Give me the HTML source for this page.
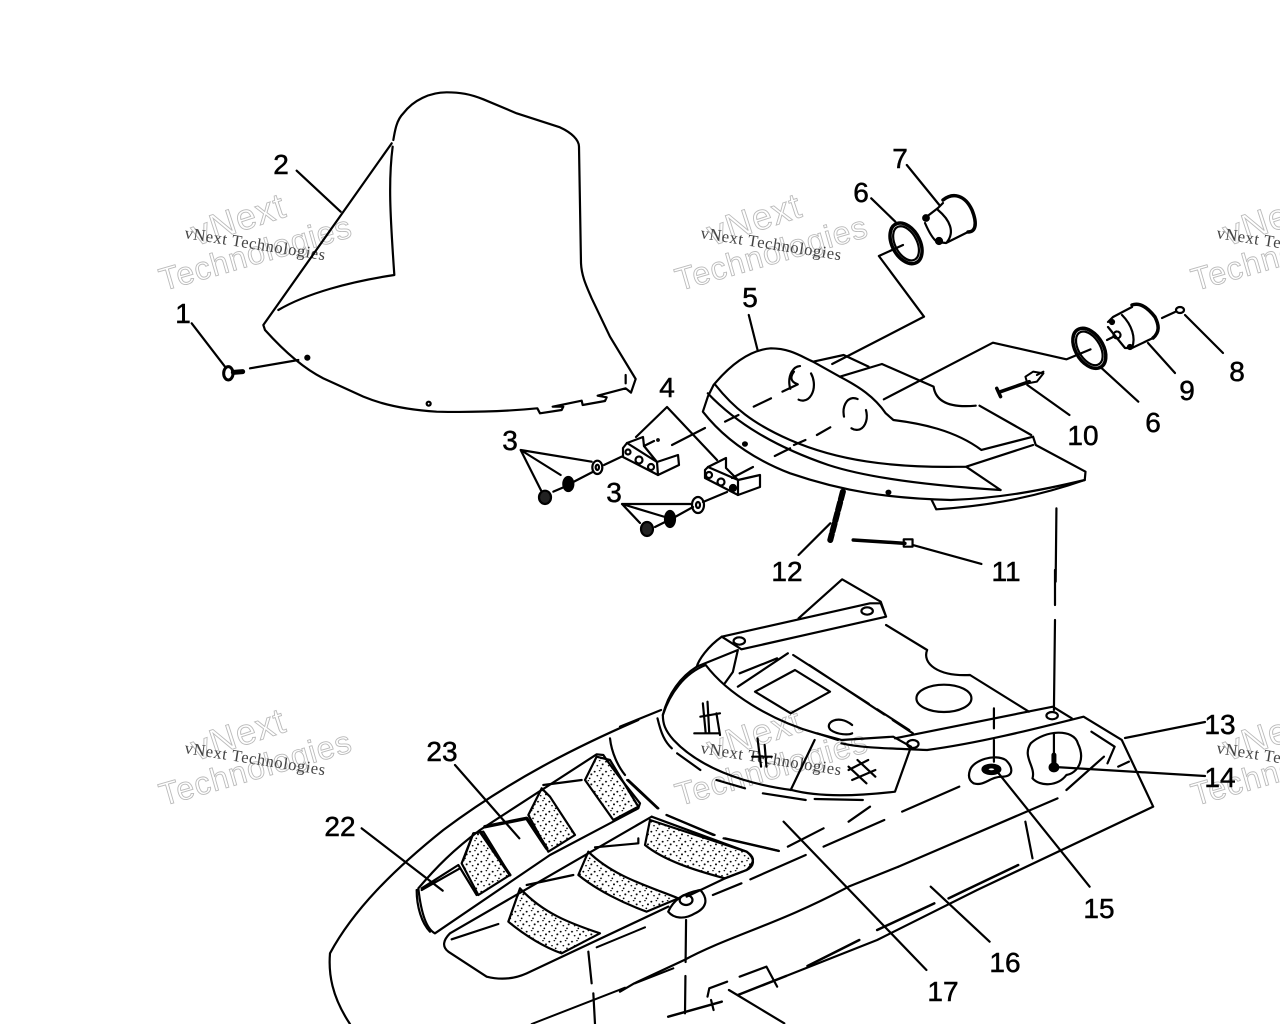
<!DOCTYPE html>
<html><head><meta charset="utf-8"><style>
html,body{margin:0;padding:0;background:#fff}
svg{display:block}
svg path,svg ellipse,svg circle{vector-effect:non-scaling-stroke}
.l{fill:none;stroke:#000;stroke-width:2.2;stroke-linejoin:round;stroke-linecap:round}
.t{font:28px "Liberation Sans",sans-serif;fill:#000;stroke:#000;stroke-width:.5;text-anchor:middle}
.w1{font:16.5px "Liberation Serif",serif;fill:#444;letter-spacing:.6px}
.w2{font:36px "Liberation Sans",sans-serif;fill:none;stroke:#bbb;stroke-width:.9;letter-spacing:1px}
.w3{font:32px "Liberation Sans",sans-serif;fill:none;stroke:#bbb;stroke-width:.9;letter-spacing:1px}
</style></head><body>
<svg width="1280" height="1024" viewBox="0 0 1280 1024" xmlns="http://www.w3.org/2000/svg">
<defs>
<pattern id="st" width="34" height="30" patternUnits="userSpaceOnUse">
<circle cx="4" cy="5" r="2.8"/><circle cx="19" cy="2" r="2.2"/><circle cx="28" cy="13" r="3"/><circle cx="12" cy="17" r="2.4"/><circle cx="23" cy="25" r="2.6"/>
</pattern>
<g id="wm">
<text class="w2" transform="translate(196,246) rotate(-18)">vNext</text>
<text class="w3" transform="translate(163,291) rotate(-16)">Technologies</text>
<text class="w1" transform="translate(184,238) rotate(9)">vNext Technologies</text>
</g>
</defs>
<rect width="1280" height="1024" fill="#fff"/>
<use href="#wm"/><use href="#wm" x="516"/><use href="#wm" x="1032"/>
<use href="#wm" y="515"/><use href="#wm" x="516" y="515"/><use href="#wm" x="1032" y="515"/>

<!-- zoom 1 -->
<g class="l" transform="translate(150,80) scale(.33333)">
<path d="M730 180C735 150 740 120 760 100C790 60 840 37 890 37C930 37 960 42 1000 58L1100 100L1230 142C1265 158 1287 180 1287 200L1293 550C1295 590 1310 620 1325 655L1380 770L1457 897L1443 938L1427 925L1343 947L1370 952L1365 963L1298 975L1295 962L1208 980L1240 980L1235 990L1170 1000L1162 985C1060 995 950 997 860 995C780 990 700 975 640 950L520 895C450 860 390 800 345 750L340 735L725 190"/>
<path d="M728 200C715 300 720 400 733 585C600 605 470 640 385 690"/>
<path d="M1427 885L1427 910M440 272L572 395M125 730L225 860M300 865L445 840"/>
<circle cx="472" cy="833" r="6" fill="#000"/><circle cx="836" cy="971" r="6"/>
<ellipse cx="235" cy="880" rx="14" ry="20" stroke-width="3"/><path d="M250 877L278 875" stroke-width="5"/>
<path d="M1112 1110L1325 1145M1112 1110L1232 1185M1112 1110L1175 1235M1210 1235L1240 1222M1272 1205L1330 1175M1362 1155L1415 1130"/>
<ellipse cx="1342" cy="1162" rx="15" ry="20"/><ellipse cx="1342" cy="1162" rx="5" ry="8"/>
<ellipse cx="1255" cy="1212" rx="15" ry="21" fill="#000"/>
<ellipse cx="1185" cy="1252" rx="18" ry="20" fill="#222"/>
</g>
<g class="l">
<!-- second fastener set -->
<path d="M622 504L692 504M622 504L665 517M622 504L640 523M655 527L665 522M675 517L693 507M703 502L727 492"/>
<ellipse cx="698" cy="505" rx="6" ry="8"/><ellipse cx="698" cy="505" rx="2" ry="3"/>
<ellipse cx="670" cy="519" rx="5" ry="8" fill="#000"/>
<ellipse cx="647" cy="529" rx="6" ry="7" fill="#222"/>
<!-- bracket 1 -->
<path d="M623 448L627 443L643 437L644 446L657 462L678 455L679 465L658 475L623 457Z"/>
<path d="M627 443L657 462L658 475M644 446L654 441"/>
<circle cx="628" cy="452" r="2.5"/><circle cx="639" cy="460" r="3.5"/><circle cx="651" cy="467" r="3"/>
<circle cx="658" cy="440" r=".8"/>
<path d="M672 445L705 428"/>
<!-- bracket 2 -->
<path d="M705 470L708 467L726 458L726 468L738 480L760 475L760 487L738 495L705 478Z"/>
<path d="M708 467L738 480L738 495M732 478L753 467"/>
<circle cx="709" cy="475" r="3"/><circle cx="721" cy="482" r="3.5"/><circle cx="733" cy="488" r="3" fill="#000"/>
<path d="M667 407L636 437M667 407L717 460"/>
<path d="M1125 738L1205 722M1055 767L1205 776"/>
<!-- gauge 7 -->
<path d="M925 218L938 208L943 203M925 223C928 230 932 238 937 242L946 243L968 232M938 210C950 220 955 232 947 242"/>
<path d="M943 200C953 192 965 195 972 210C978 225 975 232 968 232" stroke-width="3.5"/>
<circle cx="926" cy="218" r="2.8" fill="#000"/><circle cx="939" cy="241" r="3" fill="#000"/>
<!-- gauge 9 -->
<path d="M1108 322L1113 317L1132 307M1108 327L1125 348L1132 348L1153 338M1122 315C1132 325 1136 338 1132 348"/>
<path d="M1132 305C1140 302 1148 308 1155 317C1159 325 1160 332 1153 338" stroke-width="3.5"/>
<circle cx="1117" cy="335" r="3.5" stroke-dasharray="2 1.5"/><circle cx="1112" cy="322" r="2" fill="#000"/><circle cx="1130" cy="347" r="2" fill="#000"/>
<path d="M1107 340L1113 337"/>
<ellipse cx="1180" cy="310" rx="4" ry="3"/>
<path d="M1162 318L1175 312M1185 315L1223 353M1148 343L1175 373"/>
</g>

<!-- zoom 2 -->
<g class="l" transform="translate(660,140) scale(.38265,.33333)">
<path d="M140 735C180 680 230 630 290 625C340 625 370 650 400 665L470 710C520 740 560 770 590 820L610 840C680 850 770 870 840 930L975 890L982 915L1112 995L1110 1020C1000 1050 890 1075 760 1080C600 1075 480 1055 340 1000C250 960 170 900 112 815L125 770Z"/>
<path d="M125 760C200 850 300 920 440 975C560 1020 750 1040 890 1050"/>
<path d="M145 735C190 800 240 850 340 900C460 960 600 985 800 980L890 1050M800 980L975 915"/>
<path d="M400 665L480 645L545 680M470 710L580 672L715 740C720 780 750 805 825 797M835 797L970 885"/>
<path d="M710 1080L722 1108C830 1100 960 1080 1110 1020"/>
<circle cx="222" cy="912" r="5" fill="#000"/><circle cx="597" cy="1057" r="5" fill="#000"/>
<ellipse cx="370" cy="730" rx="32" ry="52" stroke-dasharray="28 14" transform="rotate(-5 370 730)"/>
<ellipse cx="510" cy="822" rx="30" ry="48" stroke-dasharray="28 14" transform="rotate(-8 510 822)"/>
<path d="M450 672L690 530L572 348L635 315M585 778L870 608L1062 658L1125 628"/>
<path d="M170 845L205 825M245 800L290 775M320 755L360 733C340 725 340 710 350 695M300 948L340 925M350 915L380 900M410 885L445 862"/>
<ellipse cx="643" cy="310" rx="37" ry="64" transform="rotate(-22 643 310)" stroke-width="3.5"/>
<ellipse cx="643" cy="310" rx="29" ry="54" transform="rotate(-22 643 310)"/>
<ellipse cx="1122" cy="625" rx="37" ry="64" transform="rotate(-25 1122 625)" stroke-width="3.5"/>
<ellipse cx="1122" cy="625" rx="29" ry="54" transform="rotate(-25 1122 625)"/>
<path d="M552 175L615 245M645 75L730 195M232 525L255 630M960 735L1070 825M1150 680L1250 785"/>
<path d="M880 745L890 770M890 755L965 725" stroke-width="3.5"/>
<path d="M955 710L975 695L1002 700L985 725L960 730Z M1002 695L985 705" stroke-width="2"/>
<path d="M478 1055L445 1200" stroke-width="6" stroke-dasharray="8 3"/>
<path d="M362 1245L445 1150"/>
<path d="M505 1200L640 1210" stroke-width="3.5"/>
<path d="M637 1198L660 1198L660 1220L637 1220Z M660 1215L840 1272"/>
<path d="M1036 1105L1034 1325"/>
</g>

<!-- zoom 3 -->
<g class="l" transform="translate(620,570) scale(.35714,.33333)">
<path d="M500 145L622 28L730 95L745 140M285 200L700 100L730 100L745 140L340 238ZM745 165L860 240C845 280 890 320 980 315L1145 425"/>
<ellipse cx="334" cy="213" rx="16" ry="11"/><ellipse cx="692" cy="123" rx="16" ry="11"/>
<path d="M285 200C245 230 220 270 215 290L330 240L316 306L294 339"/>
<path d="M120 435C140 370 180 310 240 285C300 370 420 450 550 490L620 510L765 500L815 530L770 665C650 680 550 680 480 660C340 640 220 590 150 510C125 480 120 460 120 435Z"/>
<path d="M215 290C170 320 135 370 120 435M545 510L478 660M552 490L610 510"/>
<path d="M105 445C115 490 125 515 145 535M160 550L225 600M270 630L350 655M400 670L520 690M545 687L680 690"/>
<path d="M378 365L490 300L588 365L478 430Z"/>
<ellipse cx="907" cy="385" rx="77" ry="41" stroke-dasharray="140 16"/>
<path d="M650 465C610 430 570 460 590 480C610 495 640 495 650 490"/>
<path d="M330 350L470 250M335 310L440 265"/>
<path d="M485 255L810 480M530 285L820 490" stroke-dasharray="90 10"/>
<path d="M620 520C680 535 760 535 860 540C1000 520 1150 480 1298 440L1405 510L1493 710L1000 960L720 1110L465 1218"/>
<path d="M770 505L1212 410L1265 445"/>
<ellipse cx="1210" cy="437" rx="16" ry="11"/><ellipse cx="820" cy="522" rx="16" ry="12"/>
<path d="M1150 520C1190 480 1270 475 1282 520C1305 570 1280 610 1250 615C1225 650 1175 650 1155 625C1165 590 1125 560 1150 520Z"/>
<path d="M980 600C990 570 1050 550 1080 570C1100 590 1105 620 1070 620C1035 620 1020 650 990 640C975 630 975 615 980 600Z"/>
<ellipse cx="1040" cy="598" rx="25" ry="14" fill="#000"/><ellipse cx="1040" cy="598" rx="11" ry="6" fill="#fff"/>
<circle cx="1215" cy="592" r="12" fill="#000"/><path d="M1215 555L1215 590" stroke-width="5"/>
<path d="M1060 610L1315 950M870 950L1035 1115M458 755L858 1200"/>
<path d="M1218 0L1218 105M1218 150L1215 420M1215 490L1215 555M1047 415L1047 475M1047 510L1047 575"/>
<path d="M470 830L570 775M640 755L700 710M790 725L950 650M570 830L740 750M365 928L520 855M260 975L340 940M780 890L1225 685M1250 660L1355 560M1320 485L1385 530L1365 580M1395 590L1425 575M1135 755L1155 865"/>
<path d="M0 1265L40 1240M180 1170C300 1100 450 1060 640 950L780 890M40 1240L180 1170"/>
<path d="M920 985L1115 885M720 1080L880 1000M525 1188L670 1110M135 1340L285 1295M330 1275L465 1218" stroke-width="2.5"/>
<path d="M245 1280L250 1255L300 1235M335 1220L410 1190L440 1250M255 1290L262 1320M305 1260L460 1360"/>
<path d="M185 1050L182 1330" stroke-dasharray="42 14"/>
<path d="M0 470L115 420M20 630L105 715M130 735L265 795M290 805L445 843"/>
<path d="M135 1025C150 990 175 970 225 960C250 990 240 1015 210 1030C180 1050 150 1045 135 1025Z"/>
<ellipse cx="185" cy="990" rx="18" ry="15"/>
<path d="M232 400L240 490M245 395L250 490M208 490L275 490M225 440L280 430M270 430L280 495"/>
<path d="M385 505L395 590M405 525L410 590M370 560L425 560"/>
<path d="M640 590L690 640M665 570L715 620M650 630L715 600M640 600L695 570"/>
</g>

<!-- zoom 4 -->
<g class="l" transform="translate(310,720) scale(.33333)">
<path d="M985 0C800 80 600 180 400 330C250 450 130 570 60 700C55 760 65 830 120 912"/>
<path d="M325 505C380 440 430 390 510 330L860 103L880 105C920 165 960 210 990 250L985 265L720 405L375 640C355 630 335 595 325 505Z"/>
<path d="M320 510C320 560 335 610 360 635"/>
<path fill="url(#st)" d="M490 340L455 430L505 525L600 465L520 335Z"/>
<path fill="url(#st)" d="M695 205L655 285L715 395L795 345L720 230Z"/>
<path fill="url(#st)" d="M860 110L825 180L910 300L985 260L900 120Z"/>
<path d="M335 505L445 435L500 525M335 510L450 445"/>
<path d="M525 320L650 295L710 385" stroke-width="3.5"/>
<path d="M510 335L600 465" stroke-width="3"/>
<path d="M700 195L815 180M460 420L490 340"/>
<path d="M435 135L628 355M155 325L398 512"/>
<path d="M1025 290L420 640C400 660 395 680 415 695L530 770C570 780 610 778 650 760L1075 560"/>
<path d="M1025 290L1310 395C1340 420 1330 440 1310 450L1245 475L1130 530"/>
<path fill="url(#st)" d="M1020 300L1005 375C1060 420 1150 450 1245 475L1310 450C1340 420 1330 410 1310 395Z"/>
<path fill="url(#st)" d="M835 395L805 465C860 510 940 550 1010 575L1105 535C1020 500 910 470 835 395Z"/>
<path fill="url(#st)" d="M630 505L595 605C650 650 700 680 755 700L870 640C780 610 700 580 630 505Z"/>
<path d="M855 382L985 370L985 355M650 495L790 465M425 658L565 612"/>
<path d="M900 55C905 100 925 140 945 165M955 180L1045 265M1070 285L1210 345M1245 355L1405 392"/>
<path d="M835 695L845 790M850 820L855 912"/>
<path d="M665 912L945 803M975 790L1090 745M860 682L1005 622" stroke-width="2"/>
</g>

<!-- labels -->
<text class="t" x="183" y="323">1</text>
<text class="t" x="281" y="174">2</text>
<text class="t" x="510" y="450">3</text>
<text class="t" x="614" y="502">3</text>
<text class="t" x="667" y="397">4</text>
<text class="t" x="750" y="307">5</text>
<text class="t" x="861" y="202">6</text>
<text class="t" x="900" y="168">7</text>
<text class="t" x="1153" y="432">6</text>
<text class="t" x="1237" y="381">8</text>
<text class="t" x="1187" y="400">9</text>
<text class="t" x="1083" y="445">10</text>
<text class="t" x="1006" y="581">11</text>
<text class="t" x="787" y="581">12</text>
<text class="t" x="1220" y="734">13</text>
<text class="t" x="1220" y="787">14</text>
<text class="t" x="1099" y="918">15</text>
<text class="t" x="1005" y="972">16</text>
<text class="t" x="943" y="1001">17</text>
<text class="t" x="340" y="836">22</text>
<text class="t" x="442" y="761">23</text>
</svg>
</body></html>
